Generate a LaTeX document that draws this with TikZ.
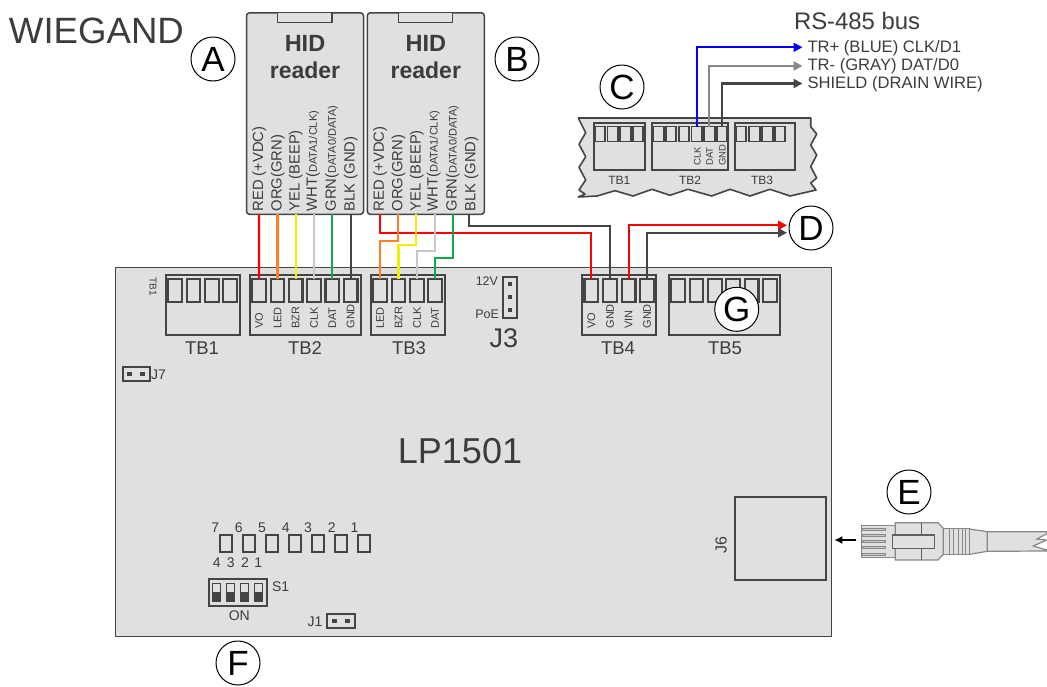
\documentclass[tikz,border=0pt]{standalone}
\usepackage{fontspec}
\setmainfont{Liberation Sans}
\usetikzlibrary{arrows.meta}
\definecolor{ink}{HTML}{444444}
\definecolor{txt}{HTML}{3C3C3C}
\definecolor{panel}{HTML}{E0E0E0}
\definecolor{wred}{HTML}{FF0000}
\definecolor{worg}{HTML}{FF7F27}
\definecolor{wyel}{HTML}{F6EE00}
\definecolor{wwht}{HTML}{C8C8C8}
\definecolor{wgrn}{HTML}{12A84A}
\definecolor{wblu}{HTML}{0000FF}
\definecolor{wgry}{HTML}{888888}
\newcommand{\fs}[1]{\fontsize{#1}{#1}\selectfont}
\tikzset{
  every node/.style={inner sep=0pt,outer sep=0pt,text=txt},
  board/.style={draw=ink,fill=panel,line width=1.6pt},
  readerbox/.style={draw=ink,fill=panel,line width=1.5pt,rounded corners=3pt},
  tabbox/.style={draw=ink,fill=panel,line width=1.2pt},
  tbbox/.style={draw=ink,line width=2pt},
  pinbox/.style={draw=ink,line width=2.2pt,minimum width=13.5pt,minimum height=23.5pt},
  spin/.style={draw=ink,line width=1.9pt,minimum width=10.5pt,minimum height=15pt},
  wire/.style={line width=2.2pt},
  bwire/.style={line width=2.2pt,-{Triangle[length=9pt,width=9pt]}},
  callout/.style={circle,draw=black,fill=white,line width=1pt,minimum size=44pt,text=black,font=\fs{35}},
  pinlab/.style={rotate=90,anchor=west,font=\fs{11}},
  wirelab/.style={rotate=90,anchor=west,font=\fs{14.8}},
  tblab/.style={font=\fs{18.5}},
  clab/.style={font=\fs{12}},
  sm/.style={font=\fs{14}},
  dotpin/.style={fill=ink,minimum size=4.5pt},
  busl/.style={anchor=west,font=\fs{16.6}},
  cablepart/.style={draw=wgry,fill=panel,line width=1.2pt}
}
\begin{document}
\begin{tikzpicture}[x=1pt,y=-1pt]
\useasboundingbox (0,0) rectangle (1047,686);
% main board
\node[board,minimum width=716pt,minimum height=369pt,anchor=north west] (lp) at (115.5,267.5) {};
\node[font=\fs{36}] (lpname) at (460,451) {LP1501};
\node[anchor=west,font=\fs{36.6}] (title) at (9,31) {WIEGAND};
% readers
\foreach \n/\x in {a/246.5,b/367.3}{
  \node[readerbox,minimum width=117pt,minimum height=201.5pt,anchor=north west] (reader\n) at (\x,12.8) {};
  \node[tabbox,minimum width=54.5pt,minimum height=10pt,anchor=north west] (tab\n) at (\x+31,12.8) {};
  \node[font=\bfseries\fs{23.5}] (hid\n) at (\x+58.5,43) {HID};
  \node[font=\bfseries\fs{23}] (rd\n) at (\x+58.5,70) {reader};
  \node[wirelab] (l\n1) at (\x+12.8,211.5) {RED (+VDC)};
  \node[wirelab] (l\n2) at (\x+31.2,211.5) {ORG(GRN)};
  \node[wirelab] (l\n3) at (\x+49.4,211.5) {YEL (BEEP)};
  \node[wirelab] (l\n4) at (\x+66.5,211.5) {WHT(\fs{11}DATA1/CLK)};
  \node[wirelab] (l\n5) at (\x+85.5,211.5) {GRN(\fs{11}DATA0/DATA)};
  \node[wirelab] (l\n6) at (\x+104.2,211.5) {BLK (GND)};
}
% terminal blocks on the board
\node[tbbox,minimum width=74pt,minimum height=60pt,anchor=north west] (tb1) at (166,275) {};
\node[tbbox,minimum width=110.5pt,minimum height=60pt,anchor=north west] (tb2) at (250,275) {};
\node[tbbox,minimum width=74pt,minimum height=60pt,anchor=north west] (tb3) at (371.3,275) {};
\node[tbbox,minimum width=74pt,minimum height=60pt,anchor=north west] (tb4) at (582.3,275) {};
\node[tbbox,minimum width=110.5pt,minimum height=60pt,anchor=north west] (tb5) at (669,275) {};
\foreach \n/\x in {1/175,2/193.5,3/212,4/230}{\node[pinbox] (tba\n) at (\x,290.4) {};}
\foreach \n/\x in {1/259,2/277.5,3/295.7,4/314,5/332.3,6/350.7}{\node[pinbox] (tbb\n) at (\x,290.4) {};}
\foreach \n/\x in {1/380,2/398.5,3/417,4/435}{\node[pinbox] (tbc\n) at (\x,290.4) {};}
\foreach \n/\x in {1/591.3,2/610,3/628.7,4/647}{\node[pinbox] (tbd\n) at (\x,290.4) {};}
\foreach \n/\x in {1/678,2/696.5,3/715,4/733,5/751.7,6/770}{\node[pinbox] (tbe\n) at (\x,290.4) {};}
\foreach \n/\x/\t in {1/259/VO,2/277.5/LED,3/295.7/BZR,4/314/CLK,5/332.3/DAT,6/350.7/GND,7/380/LED,8/398.5/BZR,9/417/CLK,10/435/DAT,11/591.3/VO,12/610/GND,13/628.7/VIN,14/647/GND}{
  \node[pinlab] (pl\n) at (\x,328.5) {\t};
}
\node[rotate=-90,font=\fs{10}] (tb1small) at (153,287) {TB1};
\node[tblab] (tb1t) at (202,348) {TB1};
\node[tblab] (tb2t) at (305,348) {TB2};
\node[tblab] (tb3t) at (409,348) {TB3};
\node[tblab] (tb4t) at (618,348) {TB4};
\node[tblab] (tb5t) at (725,348) {TB5};
% J3
\node[tbbox,minimum width=14pt,minimum height=41pt,anchor=north west] (j3) at (503,277) {};
\foreach \n/\y in {1/284,2/297,3/310}{\node[dotpin] (j3d\n) at (510,\y) {};}
\node[anchor=east,font=\fs{12.5}] (v12) at (498,281) {12V};
\node[anchor=east,font=\fs{12.5}] (poe) at (499,314) {PoE};
\node[font=\fs{27}] (j3t) at (504,338) {J3};
% J7
\node[tbbox,minimum width=27pt,minimum height=14pt,anchor=north west] (j7) at (123,367) {};
\node[dotpin] (j7a) at (129.5,374) {};
\node[dotpin] (j7b) at (142.5,374) {};
\node[anchor=west,sm] (j7t) at (151,374.5) {J7};
% J6
\node[tbbox,minimum width=90.5pt,minimum height=83.5pt,anchor=north west] (j6) at (735,496.7) {};
\node[rotate=90,font=\fs{16}] (j6t) at (721,545) {J6};
% wires, reader A
\coordinate (wa1) at (258.9,214);\coordinate (wa2) at (277.5,214);\coordinate (wa3) at (295.7,214);
\coordinate (wa4) at (314,214);\coordinate (wa5) at (332.3,214);\coordinate (wa6) at (350.7,214);
\draw[wire,wred] (wa1) -- (tbb1.north);
\draw[wire,worg] (wa2) -- (tbb2.north);
\draw[wire,wyel] (wa3) -- (tbb3.north);
\draw[wire,wwht] (wa4) -- (tbb4.north);
\draw[wire,wgrn] (wa5) -- (tbb5.north);
\draw[wire,ink] (wa6) -- (tbb6.north);
% wires, reader B
\coordinate (wb1) at (379.7,214);\coordinate (wb2) at (397.7,214);\coordinate (wb3) at (416.3,214);
\coordinate (wb4) at (435,214);\coordinate (wb5) at (453.3,214);\coordinate (wb6) at (469.3,214);
\draw[wire,ink] (wb6) |- (500,225.7) -| (tbd2.north);
\draw[wire,wred] (wb1) |- (500,232.7) -| (tbd1.north);
\draw[wire,worg] (wb2) |- (390,240.7) -| (tbc1.north);
\draw[wire,wyel] (wb3) |- (405,245) -| (tbc2.north);
\draw[wire,wwht] (wb4) |- (425,251.3) -| (tbc3.north);
\draw[wire,wgrn] (wb5) |- (445,257.7) -| (tbc4.north);
% D
\coordinate (dred) at (787,225.3);
\coordinate (dblk) at (787,232.7);
\draw[bwire,wred] (tbd3.north) |- (dred);
\draw[bwire,ink] (tbd4.north) |- (dblk);
% C fragment
\draw[board,line join=round] (578.3,118) -- (585.7,132.7) -- (579,144.3) -- (585.7,156.7) -- (579,167.3) -- (585.7,180) -- (579,190) -- (585,194) -- (578.3,197)
 -- (597,196) -- (615,190.7) -- (633,196) -- (652,189.3) -- (670,195.3) -- (688,189.3) -- (711.7,196) -- (730,189.3) -- (750,196) -- (770,189.3) -- (790,196) -- (816,190)
 -- (810.7,183) -- (816.7,178) -- (810.7,166.7) -- (816.7,155) -- (810.7,145) -- (816.7,134) -- (810.7,126.7) -- (810.7,118) -- cycle;
\node[tbbox,minimum width=51.6pt,minimum height=47pt,anchor=north west] (ca) at (593.7,123) {};
\node[tbbox,minimum width=76.3pt,minimum height=47pt,anchor=north west] (cb) at (652,123) {};
\node[tbbox,minimum width=59.7pt,minimum height=47pt,anchor=north west] (cc) at (735.3,123) {};
\foreach \n/\x in {1/600,2/612.7,3/625.3,4/638}{\node[spin] (cap\n) at (\x,134) {};}
\foreach \n/\x in {1/658.3,2/671,3/684,4/696.7,5/709.3,6/722}{\node[spin] (cbp\n) at (\x,134) {};}
\foreach \n/\x in {1/741,2/754.3,3/767.3,4/780}{\node[spin] (ccp\n) at (\x,134) {};}
\node[rotate=90,anchor=west,font=\fs{9.5}] (cclk) at (697.3,165.7) {CLK};
\node[rotate=90,anchor=west,font=\fs{9.5}] (cdat) at (709.7,165.7) {DAT};
\node[rotate=90,anchor=west,font=\fs{9.5}] (cgnd) at (722.3,165.7) {GND};
\node[clab] (cat) at (619.3,180.5) {TB1};
\node[clab] (cbt) at (690,180.5) {TB2};
\node[clab] (cct) at (762,180.5) {TB3};
% bus
\coordinate (bus1) at (802.5,47.3);
\coordinate (bus2) at (802.5,66);
\coordinate (bus3) at (802.5,83.5);
\draw[bwire,wblu] (cbp4.north) |- (bus1);
\draw[bwire,wgry] (cbp5.north) |- (bus2);
\draw[bwire,ink] (cbp6.north) |- (bus3);
\node[busl] (bt1) at (807.5,48) {TR+ (BLUE) CLK/D1};
\node[busl] (bt2) at (807.5,66) {TR- (GRAY) DAT/D0};
\node[busl] (bt3) at (807.5,84) {SHIELD (DRAIN WIRE)};
\node[anchor=west,font=\fs{23.9}] (bust) at (794,20.5) {RS-485 bus};
% DIP / LED area
\foreach \n/\x/\t in {7/215.3/7,6/238.7/6,5/262/5,4/285.7/4,3/308/3,2/331.7/2,1/354.5/1}{
  \node[font=\fs{14}] (led\n t) at (\x,528) {\t};
}
\foreach \n/\x in {7/226,6/249,5/272,4/295.2,3/318,2/341,1/364}{
  \node[draw=ink,line width=1.8pt,minimum width=11.8pt,minimum height=17.3pt] (led\n) at (\x,543.7) {};
}
\foreach \n/\x/\t in {4/216.7/4,3/230.7/3,2/245/2,1/258.3/1}{
  \node[font=\fs{14}] (sw\n t) at (\x,562.3) {\t};
}
\node[tbbox,fill=panel,minimum width=57.7pt,minimum height=27.3pt,anchor=north west] (s1) at (209,579) {};
\foreach \n/\x in {1/216.5,2/230.5,3/244.5,4/258.3}{
  \node[fill=ink,minimum width=9.6pt,minimum height=19.3pt] (sw\n) at (\x,592.4) {};
  \node[fill=panel,minimum width=7.2pt,minimum height=8.5pt] (sw\n u) at (\x,588.2) {};
}
\node[anchor=west,sm] (s1t) at (272,587) {S1};
\node[sm] (ont) at (239.3,616) {ON};
\node[tbbox,minimum width=28.3pt,minimum height=14.3pt,anchor=north west] (j1) at (326.7,614) {};
\node[dotpin] (j1a) at (334.3,621) {};
\node[dotpin] (j1b) at (347.3,621) {};
\node[anchor=east,sm] (j1t) at (322.5,622) {J1};
% plug
\coordinate (plugtip) at (856,540);
\coordinate (jacktip) at (834.3,540);
\draw[line width=1.8pt,black,-{Latex[length=8pt,width=8pt]}] (plugtip) -- (jacktip);
\begin{scope}[shift={(700,460)},x=0.3333pt,y=-0.3333pt]
  \draw[cablepart] (1041,215) -- (862,215) -- (862,274) -- (1041,273) -- (1040,270) -- (1000,258) -- (1040,240) -- (1010,237) -- (1040,222) -- cycle;
  \draw[cablepart] (808,207) -- (862,215) -- (862,274) -- (808,283) -- cycle;
  \draw[cablepart] (730,205) rectangle (808,283);
  \foreach \v in {749,762,775,788,798}{\draw[wgry,line width=1pt] (\v,205) -- (\v,283);}
  \draw[cablepart] (485,196) rectangle (586,293);
  \foreach \v in {208,226,244,263,282}{\draw[draw=wgry,fill=wwht,line width=0.6pt] (486,\v-3) rectangle (555,\v+3);}
  \draw[cablepart] (586,188) -- (714,188) -- (730,205) -- (730,283) -- (714,300) -- (586,300) -- cycle;
  \draw[wgry!70!black,line width=1pt] (665,188) -- (665,300);
  \draw[cablepart,draw=wgry!70!black] (577,225) rectangle (703,265);
\end{scope}
% callouts
\node[callout] (A) at (213,59) {A};
\node[callout] (B) at (517,59) {B};
\node[callout] (C) at (622,87) {C};
\node[callout] (D) at (811,228) {D};
\node[callout] (E) at (909,492) {E};
\node[callout] (F) at (238,663) {F};
\node[callout] (G) at (736.7,309.3) {G};
\end{tikzpicture}
\end{document}
